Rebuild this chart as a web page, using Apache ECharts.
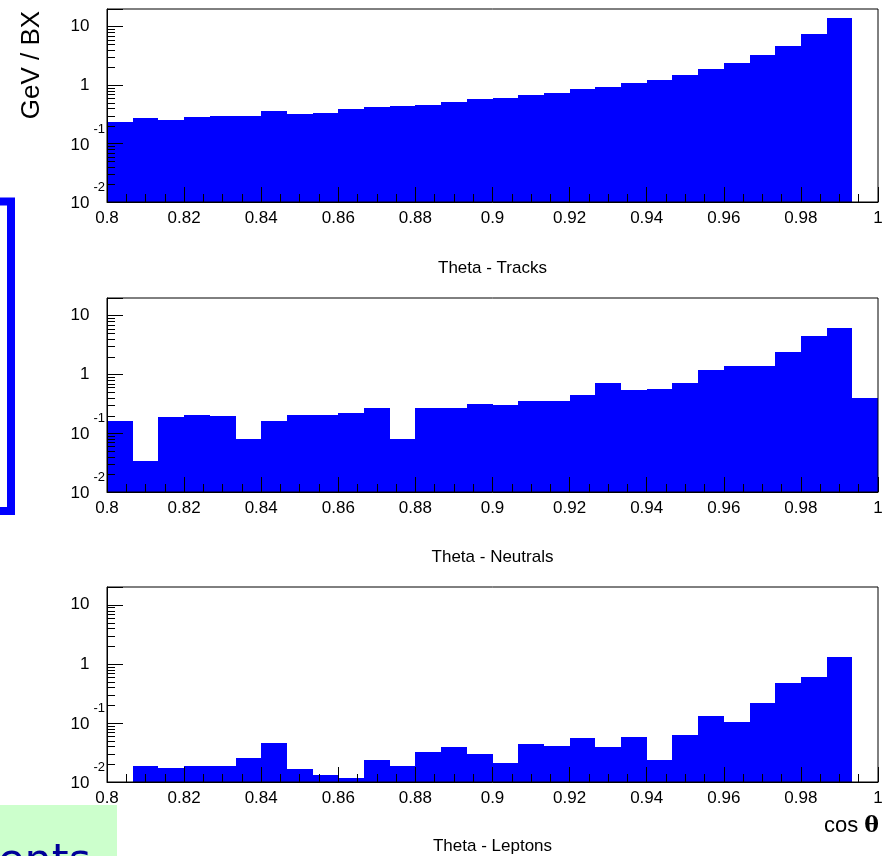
<!DOCTYPE html>
<html>
<head>
<meta charset="utf-8">
<script src="https://cdn.jsdelivr.net/npm/echarts@6/dist/echarts.min.js"></script>
<style>
html,body{margin:0;padding:0;background:#fff;}
#chart{width:883px;height:856px;}
</style>
</head>
<body>
<div id="chart"></div>
<script>
// ---- data ----
const BIN_MIN = 0.8, BIN_MAX = 1.0, N_BINS = 30;
const panelTitles = ['Theta - Tracks', 'Theta - Neutrals', 'Theta - Leptons'];
const tracks   = [0.235, 0.269, 0.251, 0.279, 0.297, 0.297, 0.357, 0.317, 0.339, 0.386, 0.42, 0.43, 0.457, 0.514, 0.578, 0.611, 0.687, 0.731, 0.868, 0.925, 1.10, 1.24, 1.48, 1.90, 2.40, 3.24, 4.60, 7.48, 14.0, null];
const neutrals = [0.161, 0.0333, 0.186, 0.207, 0.196, 0.081, 0.164, 0.207, 0.207, 0.224, 0.265, 0.081, 0.265, 0.265, 0.318, 0.298, 0.358, 0.358, 0.453, 0.725, 0.551, 0.573, 0.725, 1.17, 1.41, 1.41, 2.40, 4.57, 6.15, 0.403];
const leptons  = [null, 0.0187, 0.0175, 0.0187, 0.0187, 0.025, 0.0449, 0.0164, 0.0133, 0.0117, 0.0234, 0.0187, 0.0316, 0.0384, 0.0303, 0.021, 0.0432, 0.0408, 0.0546, 0.0384, 0.0581, 0.024, 0.0614, 0.132, 0.104, 0.214, 0.48, 0.607, 1.32, null];
const xTickInterval = 0.02;
const yMin = 0.01, yMax = 20;
const yMinorTicks = [0.02,0.03,0.04,0.05,0.06,0.07,0.08,0.09, 0.2,0.3,0.4,0.5,0.6,0.7,0.8,0.9, 2,3,4,5,6,7,8,9];
const yAxisTitle = 'GeV / BX';
const xAxisTitle = 'cos ';
const boxText = 'ents';

const seriesList = [tracks, neutrals, leptons];
const binWidth = (BIN_MAX - BIN_MIN) / N_BINS;

// ---- layout ----
const grids = [
  {top: 9,   height: 193, nameGap: 58},
  {top: 298, height: 194, nameGap: 57},
  {top: 587, height: 195, nameGap: 56}
];
const FONT = '"Liberation Sans", Arial, sans-serif';

function yLabel(v) {
  const e = Math.round(Math.log10(v));
  if (Math.abs(Math.pow(10, e) - v) / v > 1e-6) return '';
  if (e === 0) return '{c|1}{h|-1}';
  if (e === 1) return '{c|10}{h|-1}';
  return '{e|' + e + '}\n{m|10}{h|' + e + '}';
}

const option = {
  animation: false,
  backgroundColor: '#fff',
  grid: grids.map(g => ({
    left: 107, width: 771, top: g.top, height: g.height,
    show: true, borderColor: '#000', borderWidth: 1, backgroundColor: 'transparent',
    z: 10, containLabel: false, outerBoundsMode: 'none'
  })),
  xAxis: grids.map((g, i) => ({
    type: 'value', gridIndex: i, min: BIN_MIN, max: BIN_MAX, interval: xTickInterval, z: 10,
    name: panelTitles[i], nameLocation: 'middle', nameGap: g.nameGap,
    nameTextStyle: {fontFamily: FONT, fontSize: 17, color: '#000'},
    axisLine: {show: true, onZero: false, lineStyle: {color: '#000', width: 1}},
    axisTick: {show: true, inside: true, length: 15, lineStyle: {color: '#000', width: 1}},
    minorTick: {show: true, splitNumber: 4, length: 8, lineStyle: {color: '#000', width: 1}},
    splitLine: {show: false}, minorSplitLine: {show: false},
    axisLabel: {show: true, margin: 8, fontFamily: FONT, fontSize: 17, color: '#000',
      showMinLabel: true, showMaxLabel: true, hideOverlap: false,
      formatter: v => String(+v.toFixed(2))}
  })),
  yAxis: grids.map((g, i) => ({
    type: 'log', logBase: 10, gridIndex: i, min: yMin, max: yMax, z: 10,
    axisLine: {show: true, lineStyle: {color: '#000', width: 1}},
    axisTick: {show: true, inside: true, length: 16, lineStyle: {color: '#000', width: 1}},
    splitLine: {show: false}, minorTick: {show: false},
    axisLabel: {
      show: true, margin: 2, color: '#000', fontFamily: FONT, hideOverlap: false,
      showMinLabel: true, showMaxLabel: true,
      formatter: yLabel,
      rich: {
        c: {fontFamily: FONT, fontSize: 17, lineHeight: 17, color: '#000'},
        h: {fontFamily: FONT, fontSize: 13, lineHeight: 13, color: 'rgba(0,0,0,0)', padding: [0, 0, 0, 4]},
        m: {fontFamily: FONT, fontSize: 17, lineHeight: 29, color: '#000'},
        e: {fontFamily: FONT, fontSize: 13, lineHeight: 3, color: '#000'}
      }
    }
  })),
  series: [],
  graphic: [
    {type: 'text', rotation: Math.PI / 2, z: 20, x: 31.5, y: 65,
     style: {text: yAxisTitle, x: 0, y: 0, align: 'center', verticalAlign: 'middle', font: '26px ' + FONT, fill: '#000'}},
    {type: 'text', z: 20, x: 879, y: 826,
     style: {text: xAxisTitle + '{t|θ}', align: 'right', verticalAlign: 'middle', font: '22px ' + FONT, fill: '#000',
       rich: {t: {font: 'bold 22px "DejaVu Serif", serif', fill: '#000'}}}},
    {type: 'rect', z: 20, shape: {x: -100, y: 201.5, width: 111, height: 309.5},
     style: {fill: 'none', stroke: '#0000ff', lineWidth: 8}},
    {type: 'rect', z: 20, shape: {x: 0, y: 805, width: 117, height: 60}, style: {fill: '#ccffcc'}},
    {type: 'text', z: 21, x: -2, y: 884,
     style: {text: boxText, font: '43px "DejaVu Sans", sans-serif', fill: '#000099', align: 'left', verticalAlign: 'bottom'}}
  ]
};

seriesList.forEach((vals, i) => {
  const data = [];
  vals.forEach((v, k) => {
    if (v == null) return;
    data.push([BIN_MIN + k * binWidth, BIN_MIN + (k + 1) * binWidth, v]);
  });
  option.series.push({
    type: 'custom', xAxisIndex: i, yAxisIndex: i, z: 2, clip: true,
    encode: {x: [0, 1], y: 2},
    data: data,
    renderItem: function (params, api) {
      const p0 = api.coord([api.value(0), api.value(2)]);
      const p1 = api.coord([api.value(1), yMin]);
      const x0 = Math.round(p0[0]), x1 = Math.round(p1[0]);
      const y0 = Math.round(p0[1]);
      return {type: 'rect',
        shape: {x: x0, y: y0, width: x1 - x0, height: p1[1] - y0},
        style: {fill: '#0000ff', stroke: null}};
    }
  });
  option.series.push({
    type: 'custom', xAxisIndex: i, yAxisIndex: i, z: 5, silent: true,
    encode: {x: 0, y: 1},
    data: yMinorTicks.map(t => [BIN_MIN, t]),
    renderItem: function (params, api) {
      const p = api.coord([api.value(0), api.value(1)]);
      return {type: 'line', shape: {x1: p[0], y1: Math.round(p[1]) + 0.5, x2: p[0] + 8, y2: Math.round(p[1]) + 0.5},
        style: {stroke: '#000', lineWidth: 1}};
    }
  });
});

const chart = echarts.init(document.getElementById('chart'), null, {renderer: 'canvas'});
chart.setOption(option);
</script>
</body>
</html>
